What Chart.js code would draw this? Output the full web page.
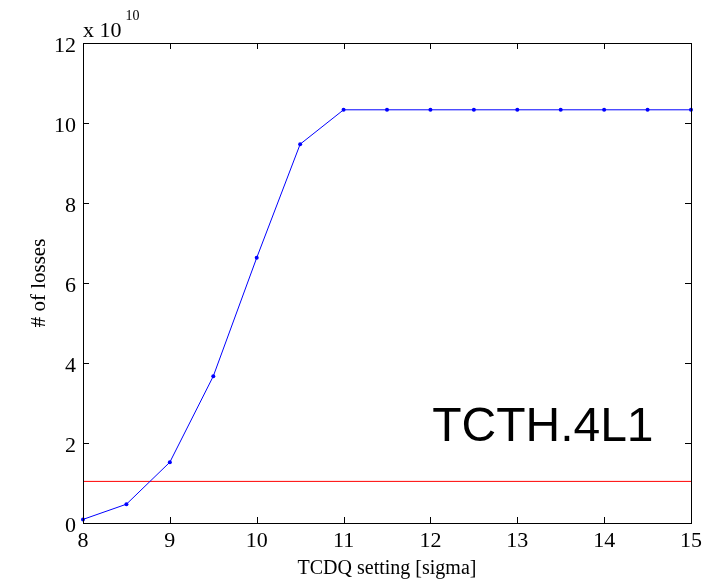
<!DOCTYPE html>
<html>
<head>
<meta charset="utf-8">
<script src="https://cdn.jsdelivr.net/npm/chart.js@4/dist/chart.umd.min.js"></script>
<style>
  body { margin: 0; background: #fff; }
  #myChart { display: block; }
</style>
</head>
<body>
<canvas id="myChart" width="719" height="582"></canvas>
<script>
// TCDQ setting [sigma] on x, # of losses (x 10^10) on y
const settings = [8, 8.5, 9, 9.5, 10, 10.5, 11, 11.5, 12, 12.5, 13, 13.5, 14, 14.5, 15];
const losses = [0.09, 0.47, 1.52, 3.67, 6.63, 9.47, 10.33, 10.33, 10.33, 10.33, 10.33, 10.33, 10.33, 10.33, 10.33];
const limitX = [8, 15];
const limitY = [1.04, 1.04];
const xTicks = [8, 9, 10, 11, 12, 13, 14, 15];
const yTicks = [0, 2, 4, 6, 8, 10, 12];

const serif = "'Liberation Serif', 'Times New Roman', serif";
const sans = "'Liberation Sans', Arial, sans-serif";

// box around the plot, inward tick marks on all four sides, plus the texts
const boxPlugin = {
    id: 'box',
    afterDraw(chart){
        const ctx = chart.ctx;
        const a = chart.chartArea;
        const xs = chart.scales.x, ys = chart.scales.y;
        ctx.save();
        ctx.strokeStyle = '#000';
        ctx.lineWidth = 1;
        ctx.strokeRect(Math.round(a.left) + 0.5, Math.round(a.top) + 0.5,
            Math.round(a.right - a.left), Math.round(a.bottom - a.top));
        const tl = 6;
        ctx.beginPath();
        xTicks.forEach(v => {
            const px = Math.round(xs.getPixelForValue(v)) + 0.5;
            ctx.moveTo(px, a.bottom); ctx.lineTo(px, a.bottom - tl);
            ctx.moveTo(px, a.top); ctx.lineTo(px, a.top + tl);
        });
        yTicks.forEach(v => {
            const py = Math.round(ys.getPixelForValue(v)) + 0.5;
            ctx.moveTo(a.left, py); ctx.lineTo(a.left + tl, py);
            ctx.moveTo(a.right, py); ctx.lineTo(a.right - tl, py);
        });
        ctx.stroke();

        // exponent label
        ctx.fillStyle = '#000';
        ctx.textBaseline = 'alphabetic';
        ctx.textAlign = 'left';
        ctx.font = '22px ' + serif;
        ctx.fillText('x 10', a.left, a.top - 6);
        const w = ctx.measureText('x 10').width;
        ctx.font = '14px ' + serif;
        ctx.fillText('10', a.left + w + 4, a.top - 23);

        // annotation
        ctx.font = '48px ' + sans;
        ctx.fillText('TCTH.4L1', xs.getPixelForValue(12.02), ys.getPixelForValue(2.05));
        ctx.restore();
    }
};

const data = {
    datasets: [
        {
            label: 'losses',
            data: settings.map((s, i) => ({x: s, y: losses[i]})),
            borderColor: '#0000ff',
            backgroundColor: '#0000ff',
            borderWidth: 1,
            pointRadius: 2,
            pointBorderWidth: 0,
            pointBackgroundColor: '#0000ff',
            clip: false
        },
        {
            label: 'limit',
            data: limitX.map((s, i) => ({x: s, y: limitY[i]})),
            borderColor: '#ff0000',
            borderWidth: 1,
            pointRadius: 0
        }
    ]
};

const config = {
    type: 'line',
    data: data,
    options: {
        responsive: false,
        animation: false,
        devicePixelRatio: 1,
        layout: { padding: { left: 0, top: 43, right: 28, bottom: 0 } },
        plugins: {
            legend: { display: false },
            tooltip: { enabled: false }
        },
        scales: {
            x: {
                type: 'linear',
                min: 8,
                max: 15,
                afterFit: (s) => { s.height = 59; },
                afterBuildTicks: (s) => { s.ticks = xTicks.map(v => ({value: v})); },
                grid: { display: false, drawTicks: false },
                border: { display: false },
                ticks: {
                    padding: 5,
                    color: '#000',
                    font: { family: serif, size: 22 },
                    maxRotation: 0
                },
                title: {
                    display: true,
                    text: 'TCDQ setting [sigma]',
                    color: '#000',
                    font: { family: serif, size: 20 },
                    padding: { top: 0, bottom: 1 }
                }
            },
            y: {
                type: 'linear',
                min: 0,
                max: 12,
                afterFit: (s) => { s.width = 83; },
                afterBuildTicks: (s) => { s.ticks = yTicks.map(v => ({value: v})); },
                grid: { display: false, drawTicks: false },
                border: { display: false },
                ticks: {
                    padding: 7,
                    labelOffset: 3,
                    color: '#000',
                    font: { family: serif, size: 22 }
                },
                title: {
                    display: true,
                    text: '# of losses',
                    color: '#000',
                    font: { family: serif, size: 21 },
                    padding: { top: 27, bottom: 0 }
                }
            }
        }
    },
    plugins: [boxPlugin]
};

new Chart(document.querySelector('#myChart'), config);
</script>
</body>
</html>
